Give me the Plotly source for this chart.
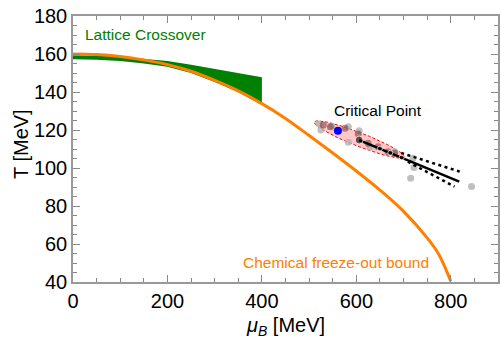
import numpy as np
import plotly.graph_objects as go

# Chemical freeze-out curve (mu_B [MeV], T [MeV])
mu_fo = [0, 50, 100, 150, 200, 250, 300, 350, 400, 450, 500, 550, 600, 650, 700, 750, 775, 800]
T_fo = [160, 159.7, 158.7, 156.9, 154.4, 150.9, 146.1, 140.6, 133.9, 126.1, 117.1, 107.9, 98.4, 88.4, 77.2, 63.2, 54.4, 40.4]

# Lattice crossover band
mu_lat = [0, 50, 100, 150, 200, 250, 300, 350, 400]
T_lat_hi = [159.3, 159.1, 158.5, 157.5, 156.3, 154.3, 152.0, 150.0, 147.8]
T_lat_lo = [157.2, 157.0, 156.3, 155.0, 153.3, 150.0, 145.3, 139.9, 133.2]

# Critical point estimates (grey)
mu_cp_grey = [521, 525, 548, 583, 606, 583, 629, 681, 720, 722, 715, 844]
T_cp_grey = [123.2, 120.0, 122.1, 121.7, 119.6, 113.5, 110.9, 108.6, 105.1, 100.2, 94.6, 90.2]

# darker estimates inside the region
mu_cp_dark = [530, 545, 576, 604, 625, 646, 667, 681]
T_cp_dark = [122.6, 121.7, 120.9, 117.9, 113.0, 111.2, 108.6, 107.7]

# black trajectory line
mu_line = [606, 650, 672, 696, 818]
T_line = [114.7, 110.2, 108.0, 105.5, 92.8]

# dotted error lines
mu_up = [695, 819]
T_up = [107.9, 98.1]
mu_dn = [709, 808]
T_dn = [103.3, 90.2]

# blue point
mu_blue = [561]
T_blue = [119.6]

# confidence ellipse parameters (center, semi-axis vectors in data units)
ell_center = [606, 115]
ell_a = [95, -9.2]
ell_b = [-5.2, -3.34]

x_ticks = [0, 200, 400, 600, 800]
y_ticks = [40, 60, 80, 100, 120, 140, 160, 180]

fig = go.Figure()

# green lattice band
fig.add_trace(go.Scatter(
    x=mu_lat + mu_lat[::-1], y=T_lat_hi + T_lat_lo[::-1],
    fill="toself", fillcolor="#008000", line=dict(width=0, color="#008000"),
    mode="lines", hoverinfo="skip"))

# orange freeze-out
fig.add_trace(go.Scatter(x=mu_fo, y=T_fo, mode="lines",
                         line=dict(color="#ff8000", width=3, shape="spline", smoothing=1)))

# ellipse
t = np.linspace(0, 2 * np.pi, 100)
ex = ell_center[0] + np.cos(t) * ell_a[0] + np.sin(t) * ell_b[0]
ey = ell_center[1] + np.cos(t) * ell_a[1] + np.sin(t) * ell_b[1]
fig.add_trace(go.Scatter(x=ex, y=ey, mode="lines", fill="toself",
                         fillcolor="rgba(255,0,0,0.22)",
                         line=dict(color="red", width=1, dash="3px,2px")))

fig.add_trace(go.Scatter(x=mu_cp_grey, y=T_cp_grey, mode="markers",
                         marker=dict(color="rgba(180,180,180,0.85)", size=7)))
fig.add_trace(go.Scatter(x=mu_cp_dark, y=T_cp_dark, mode="markers",
                         marker=dict(color="rgba(80,0,0,0.4)", size=7)))

fig.add_trace(go.Scatter(x=mu_up, y=T_up, mode="lines",
                         line=dict(color="black", width=2.5, dash="3px,3.5px")))
fig.add_trace(go.Scatter(x=mu_dn, y=T_dn, mode="lines",
                         line=dict(color="black", width=2.5, dash="3px,3.5px")))

fig.add_trace(go.Scatter(x=mu_line, y=T_line, mode="lines",
                         line=dict(color="black", width=2.5)))
fig.add_trace(go.Scatter(x=mu_line[:4], y=T_line[:4], mode="markers",
                         marker=dict(color="rgba(20,0,0,0.9)", size=[8, 5, 5, 5])))

fig.add_trace(go.Scatter(x=mu_blue, y=T_blue, mode="markers",
                         marker=dict(color="blue", size=8)))

font_fam = "Liberation Sans, Arial, sans-serif"
fig.update_layout(
    width=501, height=338,
    margin=dict(l=73, r=1, t=16, b=56),
    plot_bgcolor="white", paper_bgcolor="white",
    showlegend=False,
    font=dict(family=font_fam, size=20, color="black"),
)
fig.update_xaxes(range=[0, 900], tickvals=x_ticks, ticks="inside", ticklen=7,
                 tickcolor="#888", tickwidth=1, showline=True, linecolor="#999",
                 linewidth=1.5, mirror="ticks", showgrid=False, zeroline=False,
                 minor=dict(tick0=0, dtick=50, ticks="inside", ticklen=4, tickcolor="#888"))
fig.update_yaxes(range=[40, 180], tickvals=y_ticks, ticks="inside", ticklen=7,
                 tickcolor="#888", tickwidth=1, showline=True, linecolor="#999",
                 linewidth=1.5, mirror="ticks", showgrid=False, zeroline=False,
                 minor=dict(tick0=0, dtick=5, ticks="inside", ticklen=4, tickcolor="#888"))

fig.add_annotation(text="Lattice Crossover", x=152.8, y=170.3, xref="x", yref="y",
                   showarrow=False, font=dict(size=15.5, color="#008000", family=font_fam))
fig.add_annotation(text="Critical Point", x=646, y=130.1, xref="x", yref="y",
                   showarrow=False, font=dict(size=15.5, color="black", family=font_fam))
fig.add_annotation(text="Chemical freeze-out bound", x=556.5, y=50.1, xref="x", yref="y",
                   showarrow=False, font=dict(size=15.5, color="#ff8000", family=font_fam))
fig.add_annotation(text="T [MeV]", x=0, y=0.5, xref="paper", yref="paper",
                   xanchor="center", yanchor="middle",
                   xshift=-52, yshift=5, textangle=-90, showarrow=False,
                   font=dict(size=20, color="black", family=font_fam))
fig.add_annotation(text="<i>μ</i><sub><i>B</i></sub> [MeV]", x=0.5, y=0, xref="paper", yref="paper",
                   xanchor="center", yanchor="middle",
                   yshift=-44, showarrow=False,
                   font=dict(size=20, color="black", family=font_fam))

fig.write_html("out.html")
